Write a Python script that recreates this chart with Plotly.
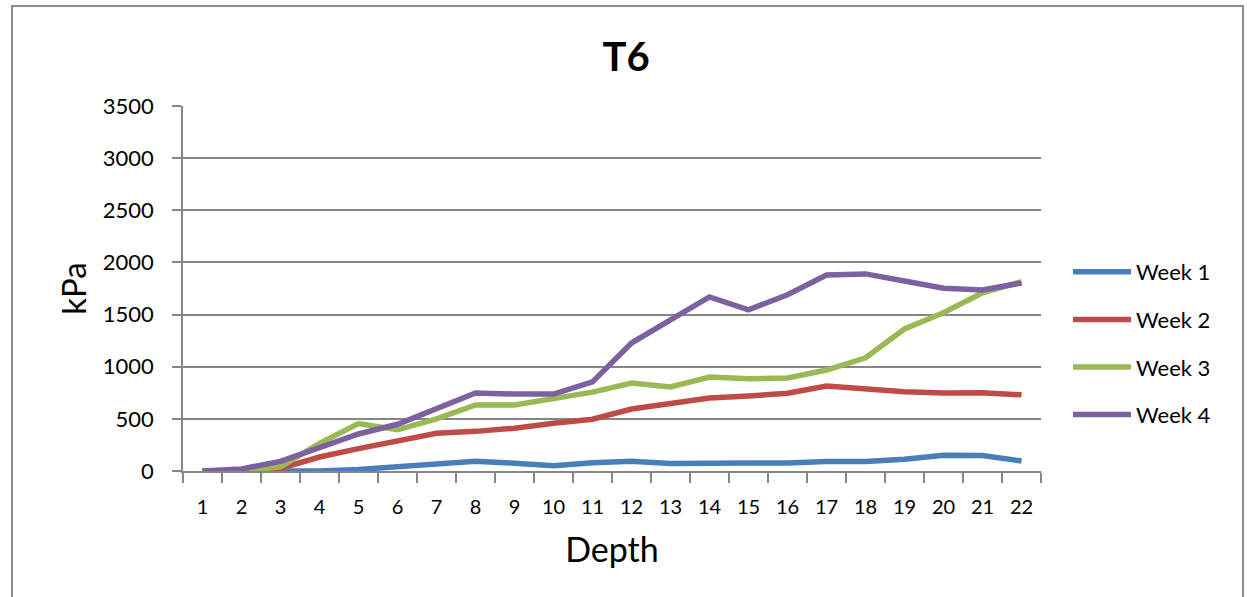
import plotly.graph_objects as go

depth = [str(i) for i in range(1, 23)]
series_names = ["Week 1", "Week 2", "Week 3", "Week 4"]
week1 = [0, 0, 0, 0, 15, 38, 68, 94, 75, 50, 80, 94, 72, 68, 76, 76, 92, 92, 112, 152, 148, 96]
week2 = [0, 0, 25, 134, 215, 285, 362, 380, 410, 458, 496, 594, 652, 700, 719, 746, 815, 788, 760, 748, 750, 730]
week3 = [0, 0, 40, 265, 455, 395, 499, 633, 633, 692, 756, 844, 806, 901, 884, 892, 968, 1086, 1362, 1518, 1708, 1815]
week4 = [0, 20, 92, 230, 355, 448, 604, 748, 738, 738, 855, 1227, 1448, 1669, 1546, 1690, 1880, 1890, 1822, 1753, 1736, 1803]
colors = ["#4A7EBB", "#BE4B48", "#98B954", "#7D60A0"]

FONT = "Lato"
fig = go.Figure()
for name, vals, col in zip(series_names, [week1, week2, week3, week4], colors):
    fig.add_trace(go.Scatter(x=depth, y=vals, mode="lines", name=name, legendgroup=name,
                             line=dict(color=col, width=5.5)))

W, H = 1247, 597
L, R, T, B = 183, 1041, 106, 471
pw, ph = R - L, B - T

def px(x):
    return (x - L) / pw

def py(y):
    return (B - y) / ph

fig.update_layout(
    width=W, height=H,
    margin=dict(l=L, r=W - R, t=T, b=H - B, autoexpand=False),
    paper_bgcolor="white", plot_bgcolor="white",
    font=dict(family=FONT, color="black"),
    title=dict(text="<b>T6</b>", x=px(626), xref="paper", y=1 - 57 / H, yanchor="middle",
               xanchor="center", font=dict(size=40, family=FONT), automargin=False),
    xaxis=dict(type="category", range=[-0.5, 21.5], tickson="boundaries", ticks="outside", ticklen=10,
               tickcolor="#868686", tickwidth=1.5, showline=True, linecolor="#868686",
               linewidth=1.5, showgrid=False, tickfont=dict(size=20), ticklabelstandoff=17,
               automargin=False,
               title=dict(text="Depth", font=dict(size=34), standoff=21)),
    yaxis=dict(range=[0, 3500], tickvals=[0, 500, 1000, 1500, 2000, 2500, 3000, 3500],
               ticks="outside", ticklen=9, tickcolor="#868686", tickwidth=1.5,
               showline=True, linecolor="#868686", linewidth=1.5,
               showgrid=True, gridcolor="#868686", gridwidth=1.5, zeroline=False,
               tickfont=dict(size=22), ticklabelstandoff=14, automargin=False,
               title=dict(text="kPa", font=dict(size=33), standoff=6)),
    legend=dict(x=px(1068), y=py(251), xanchor="left", yanchor="top", itemwidth=58,
                font=dict(size=22, family=FONT), tracegroupgap=16, bgcolor="rgba(0,0,0,0)"),
    shapes=[dict(type="rect", xref="paper", yref="paper",
                 x0=px(12), x1=px(1243), y0=py(640), y1=py(6),
                 line=dict(color="#8C8C8C", width=2), fillcolor="rgba(0,0,0,0)", layer="below")],
)

fig.write_html("out.html", config={"displayModeBar": False},
               post_script="document.body.style.margin='0';document.body.style.overflow='hidden';")
